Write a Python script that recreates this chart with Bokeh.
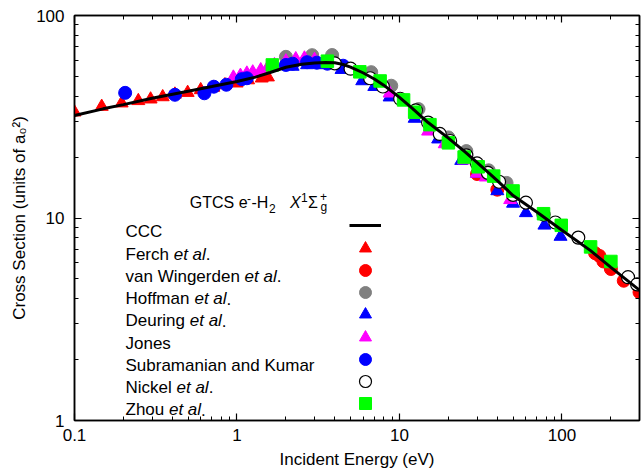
from bokeh.plotting import figure
from bokeh.models import FixedTicker, LogAxis, Label, Legend, LegendItem, BasicTickFormatter
from bokeh.core.properties import value
from bokeh.embed import file_html
from bokeh.resources import INLINE

# ---------------- data ----------------
ccc_E = [0.1, 0.15, 0.2, 0.3, 0.5, 0.7, 1.0, 1.3, 1.6, 2.0, 2.5, 3.0, 3.5, 4.0, 4.5, 5.0, 6.0, 7.0, 8.0,
         10, 12, 15, 20, 25, 30, 40, 50, 70, 100, 150, 200, 300]
ccc_v = [32.1, 34.6, 36.3, 39.0, 42.3, 44.6, 47.2, 49.6, 52.3, 55.5, 57.4, 58.3, 58.6, 58.4, 57.3, 55.6, 52.0, 48.6, 45.3,
         39.4, 34.8, 29.6, 24.8, 21.4, 18.8, 15.3, 12.9, 10.7, 8.7, 6.9, 5.7, 4.4]

ferch_E = [0.1, 0.147, 0.195, 0.247, 0.294, 0.349, 0.415, 0.497, 0.598, 0.715, 0.843, 0.995, 1.17, 1.42, 1.55]
ferch_v = [33.3, 35.5, 36.9, 37.9, 38.6, 39.6, 40.8, 41.6, 42.9, 44.1, 45.4, 46.3, 48.0, 49.0, 49.6]

vw_E = [30, 40, 160, 170, 180, 200, 240, 300]
vw_v = [16.5, 13.8, 6.7, 6.5, 6.1, 5.6, 4.9, 4.3]

hoff_E = [2.0, 2.9, 3.85, 6.7, 8.9, 13.1, 20.0, 25.8, 35.4, 45.6]
hoff_v = [62.5, 63.7, 63.8, 52.5, 45.0, 34.5, 25.0, 21.4, 17.2, 14.9]

deur_E = [2.2, 2.7, 3.3, 4.4, 5.9, 7.0, 8.7, 12.4, 17.3, 24, 30, 40, 50, 60, 78, 98]
deur_v = [56.0, 57.0, 57.0, 54.0, 47.5, 44.5, 39.5, 31.0, 24.5, 19.2, 16.6, 13.6, 11.8, 10.6, 9.2, 8.1]

jones_E = [0.95, 1.05, 1.15, 1.25, 1.4, 1.55, 1.7, 2.0, 2.3, 2.6, 3.0, 8.7, 15, 19, 25, 30, 34, 48]
jones_v = [49.5, 50.5, 51.8, 52.5, 53.8, 55.5, 57.0, 59.5, 61.0, 61.5, 60.5, 41.3, 26.8, 23.2, 19.3, 16.6, 15.9, 12.3]

sk_E = [0.205, 0.415, 0.63, 0.72, 0.86, 1.07, 1.15, 2.0, 2.2, 2.7, 3.1, 3.6, 4.5]
sk_v = [41.5, 40.6, 41.3, 44.5, 45.5, 48.5, 49.0, 57.0, 57.8, 58.8, 58.5, 57.8, 56.5]

nick_E = [4.0, 5.0, 6.6, 7.9, 10.1, 12.6, 15.0, 17.7, 20.5, 25.8, 30, 35, 41, 50, 60, 77, 91, 126, 255, 290]
nick_v = [58.0, 54.6, 49.0, 44.6, 38.8, 34.0, 29.6, 26.0, 24.0, 20.4, 18.6, 16.7, 15.1, 13.0, 11.9, 10.4, 9.5, 8.0, 5.1, 4.7]

zhou_E = [1.65, 3.6, 5.7, 7.6, 10.6, 12.4, 15.4, 20, 25, 30.5, 38, 50, 77, 99, 150, 200]
zhou_v = [57.0, 59.5, 52.7, 47.5, 38.3, 33.3, 28.9, 23.5, 20.0, 17.9, 16.1, 13.6, 10.5, 9.2, 7.2, 6.1]

x_major = [0.1, 1, 10, 100]
y_major = [1, 10, 100]

legend_rows = [
    [("CCC", "normal")],
    [("Ferch ", "normal"), ("et al", "italic"), (".", "normal")],
    [("van Wingerden ", "normal"), ("et al", "italic"), (".", "normal")],
    [("Hoffman ", "normal"), ("et al", "italic"), (".", "normal")],
    [("Deuring ", "normal"), ("et al", "italic"), (".", "normal")],
    [("Jones", "normal")],
    [("Subramanian and Kumar", "normal")],
    [("Nickel ", "normal"), ("et al", "italic"), (".", "normal")],
    [("Zhou ", "normal"), ("et al", "italic"), (".", "normal")],
]

# ---------------- layout constants ----------------
W, H = 641, 471
FL, FR, FT, FB = 74, 639, 15, 423
FONT = "Liberation Sans"

p = figure(width=W, height=H, x_axis_type="log", y_axis_type="log",
           x_range=(0.1, 300), y_range=(1, 100),
           output_backend="svg", toolbar_location=None,
           min_border_left=FL, min_border_right=W - FR, min_border_top=FT, min_border_bottom=H - FB)
p.xgrid.visible = False
p.ygrid.visible = False
p.outline_line_color = "black"
p.outline_line_width = 1.5
p.background_fill_color = "white"
p.border_fill_color = "white"

x_minor = [m * 10.0 ** k for k in (-1, 0, 1) for m in range(2, 10)] + [200, 300]
y_minor = [m * 10.0 ** k for k in (0, 1) for m in range(2, 10)]


def style_axis(ax, show_labels=True):
    ax.axis_line_color = "black"
    ax.axis_line_width = 1.5
    ax.major_tick_in = 7
    ax.major_tick_out = 0
    ax.minor_tick_in = 4
    ax.minor_tick_out = 0
    ax.major_tick_line_color = "black"
    ax.minor_tick_line_color = "black"
    ax.major_tick_line_width = 1.2
    ax.minor_tick_line_width = 1
    ax.major_label_text_font = FONT
    ax.major_label_text_color = "black"
    ax.axis_label_text_font = FONT
    ax.axis_label_text_font_style = "normal"
    ax.axis_label_text_color = "black"
    if show_labels:
        ax.major_label_text_font_size = "17px"
        ax.axis_label_text_font_size = "17px"
    else:
        ax.major_label_text_font_size = "0px"
        ax.major_label_standoff = 0
        ax.major_label_text_alpha = 0


xax = p.xaxis[0]
yax = p.yaxis[0]
xax.ticker = FixedTicker(ticks=x_major, minor_ticks=x_minor)
yax.ticker = FixedTicker(ticks=y_major, minor_ticks=y_minor)
xax.formatter = BasicTickFormatter(use_scientific=False)
yax.formatter = BasicTickFormatter(use_scientific=False)
style_axis(xax)
style_axis(yax)
xax.axis_label = "Incident Energy (eV)"
yax.axis_label = "Cross Section (units of a\u2080\u00b2)"
xax.major_label_standoff = 8
yax.major_label_standoff = 10
xax.axis_label_standoff = 6
yax.axis_label_standoff = 4

top = LogAxis(ticker=FixedTicker(ticks=x_major, minor_ticks=x_minor))
right = LogAxis(ticker=FixedTicker(ticks=y_major, minor_ticks=y_minor))
style_axis(top, False)
style_axis(right, False)
p.add_layout(top, "above")
p.add_layout(right, "right")

# ---------------- data marks ----------------
r_fe = p.scatter(ferch_E, ferch_v, marker="triangle", size=13, fill_color="#ff0000", line_color="#ff0000")
r_vw = p.scatter(vw_E, vw_v, marker="circle", size=13, fill_color="#ff0000", line_color="#ff0000")
r_ho = p.scatter(hoff_E, hoff_v, marker="circle", size=13, fill_color="#808080", line_color="#808080")
r_de = p.scatter(deur_E, deur_v, marker="triangle", size=13, fill_color="#0000ff", line_color="#0000ff")
r_jo = p.scatter(jones_E, jones_v, marker="triangle", size=13, fill_color="#ff00ff", line_color="#ff00ff")
r_sk = p.scatter(sk_E, sk_v, marker="circle", size=13, fill_color="#0000ff", line_color="#0000ff")
r_ni = p.scatter(nick_E, nick_v, marker="circle", size=13, fill_color="white", line_color="black", line_width=1.2)
r_zh = p.scatter(zhou_E, zhou_v, marker="square", size=12.5, fill_color="#00ff00", line_color="#00ff00")
r_ccc = p.line(ccc_E, ccc_v, line_color="black", line_width=3)

# ---------------- legend ----------------
leg_renderers = [r_ccc, r_fe, r_vw, r_ho, r_de, r_jo, r_sk, r_ni, r_zh]
row0, row_step = 228.3, 22.24
sym_x = 365
text_x = 125
LEG_FS = 17

WID = {' ': 278, '.': 278, '-': 333, 'a': 556, 'b': 556, 'c': 500, 'd': 556, 'e': 556, 'f': 278,
       'g': 556, 'h': 556, 'i': 222, 'k': 500, 'l': 222, 'm': 833, 'n': 556, 'o': 556, 'r': 333,
       's': 500, 't': 278, 'u': 556, 'v': 500, 'w': 722, 'y': 500, 'C': 722, 'D': 722, 'F': 611,
       'G': 778, 'H': 722, 'J': 500, 'K': 667, 'N': 722, 'S': 667, 'T': 611, 'W': 944, 'Z': 611}


def text_w(s, fs):
    return sum(WID.get(c, 556) for c in s) * fs / 1000.0


def put(text, X, Y, fs, style="normal", font=FONT):
    p.add_layout(Label(x=X - FL, y=FB - Y, x_units="screen", y_units="screen", text=text,
                       text_font=font, text_font_size=f"{fs}px", text_font_style=style,
                       text_color="black", text_align="left", text_baseline="alphabetic"))


for k, (pieces, rend) in enumerate(zip(legend_rows, leg_renderers)):
    yc = row0 + row_step * k
    x = text_x
    for s, st in pieces:
        put(s, x, yc + 6, LEG_FS, st)
        x += text_w(s, LEG_FS)
    gw = 32 if k == 0 else 30
    gh = 30
    leg = Legend(items=[LegendItem(label=value(" "), renderers=[rend])],
                 location=(sym_x - gw / 2 - FL, FB - yc - gh / 2),
                 glyph_width=gw, glyph_height=gh, label_width=0, label_height=gh,
                 label_standoff=0, label_text_font_size="0px", padding=0, margin=0, spacing=0,
                 border_line_alpha=0, background_fill_alpha=0)
    p.add_layout(leg)

# title of the legend
put("GTCS e", 189.3, 205, 16)
put("-", 246.5, 201, 12)
put("-H", 251, 205, 16)
put("2", 268.5, 211, 12)
put("X", 289.5, 205, 16, "italic")
put("1", 300.5, 200, 12)
put("\u03a3", 307.5, 205, 16)
put("+", 319.5, 199, 12)
put("g", 320, 209, 12)

open("out.html", "w").write(file_html(p, INLINE))
